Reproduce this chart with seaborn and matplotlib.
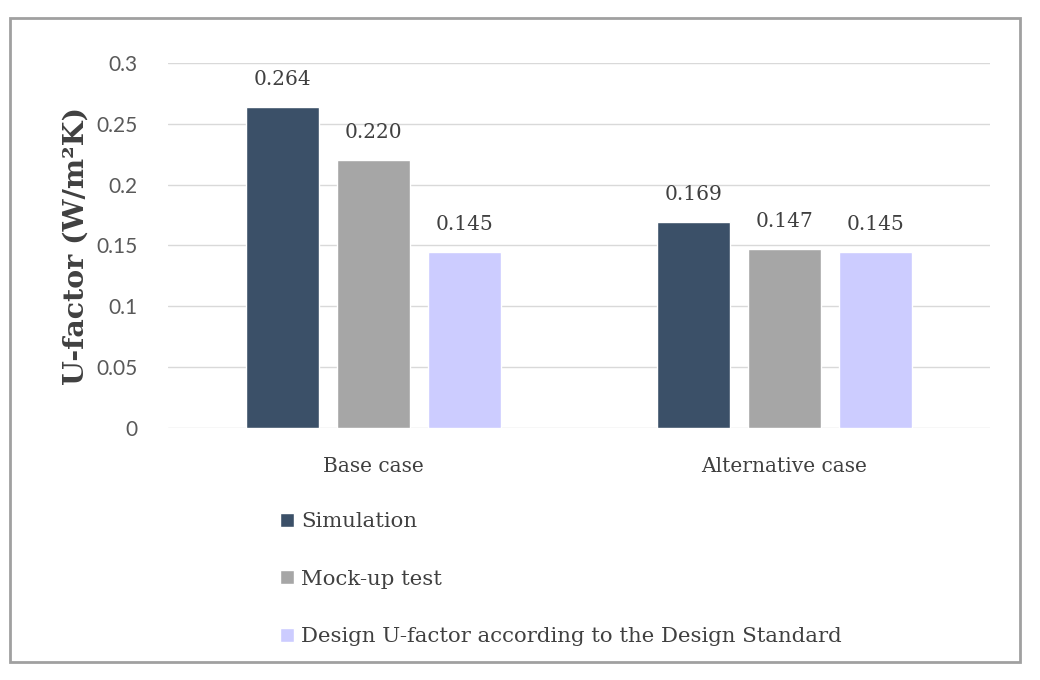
import pandas as pd
import matplotlib.pyplot as plt
import seaborn as sns
from matplotlib.patches import Rectangle

cases = ["Base case", "Alternative case"]
series = ["Simulation", "Mock-up test", "Design U-factor according to the Design Standard"]
simulation = [0.264, 0.169]
mockup = [0.220, 0.147]
design = [0.145, 0.145]
labels = [["0.264", "0.169"], ["0.220", "0.147"], ["0.145", "0.145"]]
colors = ["#3B5068", "#A6A6A6", "#CCCCFF"]

df = pd.DataFrame({
    "case": cases * 3,
    "series": [s for s in series for _ in cases],
    "value": simulation + mockup + design,
})

sns.set_theme(style="white")
serif = ["DejaVu Serif"]
plt.rcParams['font.family'] = serif

fig = plt.figure(figsize=(10.4, 6.8), dpi=100)
ax = fig.add_axes([0.1615, 0.3706, 0.7904, 0.5368])

sns.barplot(data=df, x="case", y="value", hue="series", palette=colors,
            saturation=1, width=0.664, gap=0.2, ax=ax, legend=True)

ax.set_ylim(0, 0.3)
ax.set_xlim(-0.5, 1.5)
ax.set_yticks([0, 0.05, 0.1, 0.15, 0.2, 0.25, 0.3])
ax.set_yticklabels(["0", "0.05", "0.1", "0.15", "0.2", "0.25", "0.3"],
                   family=["Lato", "DejaVu Sans"], fontsize=15, color="#595959")
ax.tick_params(axis="y", length=0, pad=22)
ax.tick_params(axis="x", length=0, pad=21, labelsize=14.5, colors="#404040")
ax.yaxis.grid(True, color="#D9D9D9", linewidth=1)
ax.set_axisbelow(True)
for s in ax.spines.values():
    s.set_visible(False)

ax.set_xlabel("")
ax.set_ylabel("U-factor (W/m²K)", fontsize=20.5, fontweight="bold", color="#404040", labelpad=5)

for cont, labs in zip(ax.containers, labels):
    for bar, lab in zip(cont, labs):
        ax.annotate(lab, (bar.get_x() + bar.get_width() / 2, bar.get_height()),
                    xytext=(0, 13), textcoords="offset points", ha="center", va="bottom",
                    fontsize=14.5, color="#404040")

handles, names = ax.get_legend_handles_labels()
ax.legend(handles, names, loc="upper left", bbox_to_anchor=(0.251, 0.275),
          bbox_transform=fig.transFigure, frameon=False, fontsize=15.3,
          handlelength=0.65, handleheight=0.65, handletextpad=0.35,
          labelspacing=1.82, labelcolor="#404040")

fig.add_artist(Rectangle((10 / 1040, 18 / 680), 1010 / 1040, 644 / 680,
                         transform=fig.transFigure, fill=False,
                         edgecolor="#A0A0A0", linewidth=2))

plt.savefig("out.png", dpi=100)
plt.close()
